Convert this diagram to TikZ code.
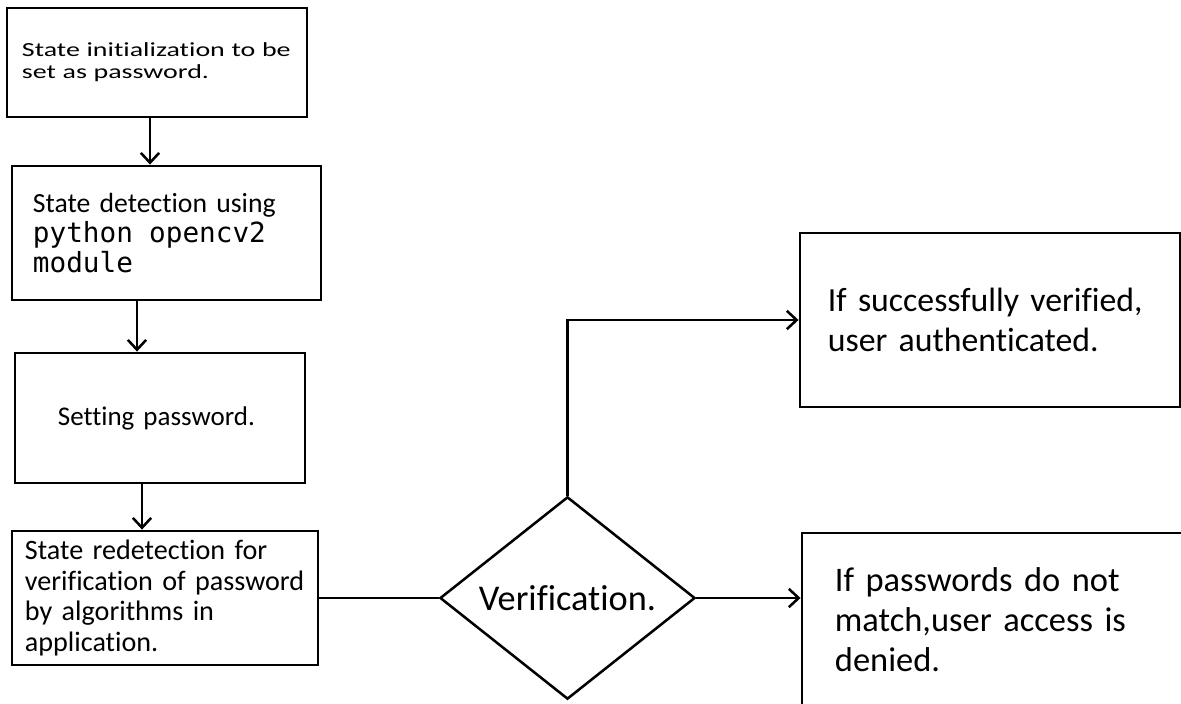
\documentclass[tikz,border=0pt]{standalone}
\usepackage{fontspec}
\setmainfont{Carlito}[Ligatures=NoCommon]
\newfontfamily\widefont[FakeStretch=1.4,Ligatures=NoCommon]{Carlito}
\newfontfamily\codefont{DejaVu Sans Mono}
\usetikzlibrary{arrows.meta,shapes.geometric,calc}

\begin{document}
\begin{tikzpicture}[x=0.025cm, y=-0.025cm,
    flowbox/.style={rectangle, draw=black, line width=2pt, align=left, inner sep=0pt},
    arr/.style={-{Straight Barb[length=7pt,width=13pt]}, line width=1.8pt}
  ]
  \clip (0,0) rectangle (1181,703);

  % left column
  \node[flowbox, minimum width=7.5cm, minimum height=2.725cm, text width=6.75cm,
        font=\widefont\fontsize{14.2pt}{15.6pt}\selectfont] (init) at (157,62.5)
        {State initialization to be\\set as password.};
  \node[flowbox, minimum width=7.725cm, minimum height=3.35cm, text width=6.675cm,
        font=\fontsize{19.7pt}{21.3pt}\selectfont] (detect) at (166.5,233)
        {State detection using\\{\codefont python\hspace{0.25em} opencv2}\\{\codefont module}};
  \node[flowbox, minimum width=7.25cm, minimum height=3.25cm, text width=5.1cm,
        font=\fontsize{19.2pt}{22pt}\selectfont] (setpw) at (160,418)
        {Setting password.};
  \node[flowbox, minimum width=7.65cm, minimum height=3.35cm, text width=7.0cm,
        font=\fontsize{20pt}{22pt}\selectfont] (redetect) at (165,598)
        {State redetection for\\verification of password\\by algorithms in\\application.};

  % decision
  \node[diamond, draw=black, line width=1.8pt, minimum width=6.375cm, minimum height=2.8cm,
        inner sep=0pt, font=\fontsize{25.8pt}{30pt}\selectfont] (verify) at (567.5,598) {Verification.};

  % outcomes
  \node[flowbox, minimum width=9.5cm, minimum height=4.35cm, text width=8.1cm,
        font=\fontsize{24pt}{28.3pt}\selectfont] (okbox) at (990,320)
        {If successfully verified,\\user authenticated.};
  \node[flowbox, minimum width=9.7cm, minimum height=4.325cm, text width=8.05cm,
        font=\fontsize{24.5pt}{28.3pt}\selectfont] (denybox) at (996,619.5)
        {If passwords do not\\match,user access is\\denied.};

  \draw[arr] ([xshift=-0.175cm]init.south) -- ([xshift=-0.175cm]init.south |- detect.north);
  \draw[arr] ([xshift=-0.575cm]setpw.north |- detect.south) -- ([xshift=-0.575cm]setpw.north);
  \draw[arr] ([xshift=-0.45cm]setpw.south) -- ([xshift=-0.45cm]setpw.south |- redetect.north);
  \draw[line width=1.8pt] (redetect.east) -- (verify.west);
  \draw[arr] (verify.north) |- (okbox.west);
  \draw[arr] (verify.east) -- (verify.east -| denybox.west);
\end{tikzpicture}
\end{document}
